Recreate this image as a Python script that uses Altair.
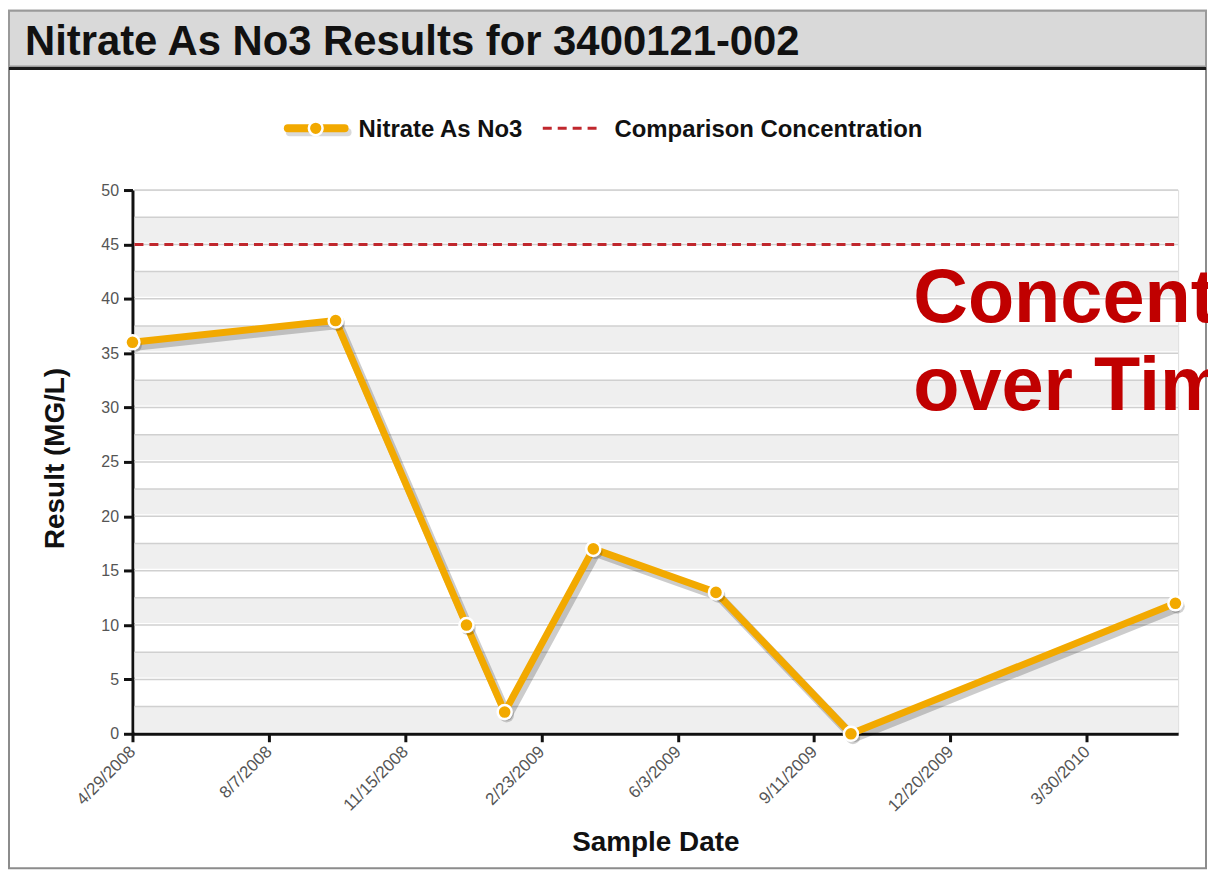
import altair as alt
import pandas as pd

# ---------------- data ----------------
sample_dates = ["2008-04-29", "2008-09-25", "2008-12-30", "2009-01-27",
                "2009-04-02", "2009-07-01", "2009-10-08", "2010-06-03"]
nitrate_results = [36, 38, 10, 2, 17, 13, 0, 12]

tick_dates = ["2008-04-29", "2008-08-07", "2008-11-15", "2009-02-23",
              "2009-06-03", "2009-09-11", "2009-12-20", "2010-03-30"]
x_domain = ["2008-04-29", "2010-06-05"]

y_ticks = [0, 5, 10, 15, 20, 25, 30, 35, 40, 45, 50]
grid_levels = [2.5, 5, 7.5, 10, 12.5, 15, 17.5, 20, 22.5, 25, 27.5, 30,
               32.5, 35, 37.5, 40, 42.5, 45, 47.5, 50]
band_lo = [0, 5, 10, 15, 20, 25, 30, 35, 40, 45]
band_hi = [2.5, 7.5, 12.5, 17.5, 22.5, 27.5, 32.5, 37.5, 42.5, 47.5]
comparison_level = [45]

chart_title = "Nitrate As No3 Results for 3400121-002"
legend_labels = ["Nitrate As No3", "Comparison Concentration"]
overlay_lines = ["Concentration", "over Time"]

# ---------------- styling ----------------
W, H = 1050, 546
FONT = "Liberation Sans"
ORANGE = "#F2A900"
RED = "#C0272D"


def dt(s):
    y, m, d = (int(p) for p in s.split("-"))
    return alt.DateTime(year=y, month=m, date=d, utc=True)


x_scale = alt.Scale(type="utc", domain=[dt(s) for s in x_domain])
y_scale = alt.Scale(domain=[0, 50], nice=False)

x_axis = alt.Axis(
    title="Sample Date", values=[dt(s) for s in tick_dates], format="%-m/%-d/%Y",
    labelAngle=315, labelAlign="right", labelBaseline="middle",
    labelFontSize=17, labelColor="#555", labelFont=FONT, labelPadding=7,
    labelOverlap=False, labelFlush=False,
    tickSize=8, tickWidth=3, tickColor="#111",
    domainWidth=3, domainColor="#111", grid=False,
    titleFont=FONT, titleFontSize=28, titleFontWeight="bold", titleColor="#111",
    titleX=W / 2, titleY=117, titleBaseline="alphabetic", titleAlign="center",
)
y_axis = alt.Axis(
    title="Result (MG/L)", values=y_ticks, grid=False,
    labelFontSize=16, labelColor="#555", labelFont=FONT, labelPadding=5,
    tickSize=9, tickWidth=3, tickColor="#111",
    domainWidth=3, domainColor="#111",
    titleFont=FONT, titleFontSize=28, titleFontWeight="bold", titleColor="#111",
    titleX=-69, titleY=H / 2 - 4, titleAngle=270, titleBaseline="alphabetic",
    titleAlign="center",
)

one = pd.DataFrame({"k": [0]})
df = pd.DataFrame({"date": sample_dates, "result": nitrate_results})
bands = pd.DataFrame({"lo": band_lo, "hi": band_hi})
grid = pd.DataFrame({"level": grid_levels})
comp = pd.DataFrame({"level": comparison_level})

X = alt.X("date:T", scale=x_scale, axis=x_axis)
Y = alt.Y("result:Q", scale=y_scale, axis=y_axis)

# frame and header (frame unfilled so the axes, drawn beneath marks, stay visible)
frame = alt.Chart(one).mark_rect(fillOpacity=0, stroke="#8c8c8c", strokeWidth=2).encode(
    x=alt.value(-124), x2=alt.value(1078), y=alt.value(-180), y2=alt.value(681))
header = alt.Chart(one).mark_rect(fill="#d9d9d9", stroke="#9a9a9a", strokeWidth=2).encode(
    x=alt.value(-124), x2=alt.value(1078), y=alt.value(-180), y2=alt.value(-124))
header_line = alt.Chart(one).mark_rule(color="#1a1a1a", strokeWidth=3).encode(
    x=alt.value(-124), x2=alt.value(1078), y=alt.value(-122))
title = alt.Chart(pd.DataFrame({"t": [chart_title]})).mark_text(
    font=FONT, fontSize=42, fontWeight="bold", color="#111", align="left",
    baseline="alphabetic").encode(x=alt.value(-108), y=alt.value(-136), text="t:N")

# legend
leg_shadow = alt.Chart(one).mark_rule(color="#000", opacity=0.15, strokeWidth=8,
                                      strokeCap="round").encode(
    x=alt.value(158), x2=alt.value(216), y=alt.value(-58))
leg_line = alt.Chart(one).mark_rule(color=ORANGE, strokeWidth=8, strokeCap="round").encode(
    x=alt.value(156), x2=alt.value(213), y=alt.value(-62))
leg_pt = alt.Chart(one).mark_point(filled=True, fill=ORANGE, stroke="white",
                                   strokeWidth=2.5, size=190, opacity=1).encode(
    x=alt.value(184), y=alt.value(-62))
leg_text1 = alt.Chart(pd.DataFrame({"t": [legend_labels[0]]})).mark_text(
    font=FONT, fontSize=24, fontWeight="bold", color="#111", align="left",
    baseline="alphabetic").encode(x=alt.value(227), y=alt.value(-53), text="t:N")
leg_dash = alt.Chart(one).mark_rule(color=RED, strokeWidth=3, strokeDash=[9, 6]).encode(
    x=alt.value(412), x2=alt.value(467), y=alt.value(-62))
leg_text2 = alt.Chart(pd.DataFrame({"t": [legend_labels[1]]})).mark_text(
    font=FONT, fontSize=24, fontWeight="bold", color="#111", align="left",
    baseline="alphabetic").encode(x=alt.value(484), y=alt.value(-53), text="t:N")

# plot body
band_layer = alt.Chart(bands).mark_rect(fill="#efefef", yOffset=-2).encode(
    x=alt.value(2), x2=alt.value(W),
    y=alt.Y("lo:Q", scale=y_scale, axis=y_axis), y2="hi:Q")
grid_layer = alt.Chart(grid).mark_rule(color="#d0d0d0", strokeWidth=1.5).encode(
    x=alt.value(2), x2=alt.value(W),
    y=alt.Y("level:Q", scale=y_scale, axis=y_axis))
comp_layer = alt.Chart(comp).mark_rule(color=RED, strokeWidth=3, strokeDash=[9, 6]).encode(
    x=alt.value(2), x2=alt.value(W),
    y=alt.Y("level:Q", scale=y_scale, axis=y_axis))

line_shadow = alt.Chart(df).mark_line(color="#000", opacity=0.2, strokeWidth=9,
                                      xOffset=3, yOffset=4, strokeJoin="round").encode(x=X, y=Y)
line = alt.Chart(df).mark_line(color=ORANGE, strokeWidth=7, strokeJoin="round").encode(x=X, y=Y)
pt_shadow = alt.Chart(df).mark_point(filled=True, fill="#000", opacity=0.18, size=220,
                                     xOffset=2, yOffset=3).encode(x=X, y=Y)
points = alt.Chart(df).mark_point(filled=True, fill=ORANGE, stroke="white",
                                  strokeWidth=2.5, size=200, opacity=1).encode(x=X, y=Y)

overlay1 = alt.Chart(pd.DataFrame({"t": [overlay_lines[0]]})).mark_text(
    font=FONT, fontSize=76, fontWeight="bold", color="#C00000", align="left",
    baseline="alphabetic").encode(x=alt.value(784), y=alt.value(133), text="t:N")
overlay2 = alt.Chart(pd.DataFrame({"t": [overlay_lines[1]]})).mark_text(
    font=FONT, fontSize=76, fontWeight="bold", color="#C00000", align="left",
    baseline="alphabetic").encode(x=alt.value(784), y=alt.value(221), text="t:N")

chart = alt.layer(
    frame, header, header_line, title,
    leg_shadow, leg_line, leg_pt, leg_text1, leg_dash, leg_text2,
    band_layer, grid_layer, comp_layer,
    line_shadow, line, pt_shadow, points, overlay1, overlay2,
).properties(
    width=W, height=H,
    padding={"left": 125, "top": 181, "right": 30, "bottom": 137},
    autosize=alt.AutoSizeParams(type="none"),
).configure_view(stroke="transparent", strokeWidth=0).configure(font=FONT, background="white")

chart.save("out.html", embed_options={"renderer": "svg", "actions": False})
